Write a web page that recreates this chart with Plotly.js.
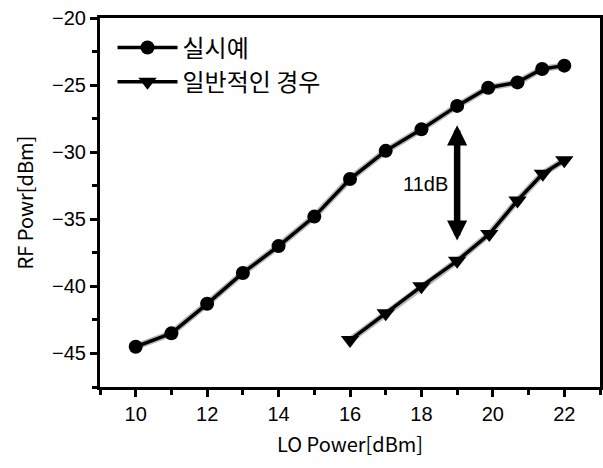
<!DOCTYPE html>
<html>
<head>
<meta charset="utf-8">
<script src="https://cdn.plot.ly/plotly-3.0.1.min.js"></script>
<style>html,body{margin:0;padding:0;background:#fff;}#chart{width:603px;height:468px;}</style>
</head>
<body>
<div id="chart"></div>
<script>
// Data
const seriesNames = ['실시예', '일반적인 경우'];
const embodimentX = [10, 11, 12, 13, 14, 15, 16, 17, 18, 19, 19.87, 20.69, 21.38, 22];
const embodimentY = [-44.5, -43.5, -41.3, -39.0, -37.0, -34.8, -32.0, -29.9, -28.3, -26.55, -25.2, -24.8, -23.8, -23.55];
const generalX = [16, 17, 18, 19, 19.9, 20.69, 21.4, 22];
const generalY = [-44.0, -42.0, -40.0, -38.1, -36.1, -33.6, -31.6, -30.6];
const gapLabel = '11dB';
const xTitle = 'LO Power[dBm]';
const yTitle = 'RF Powr[dBm]';

// Arrow drawn between the two curves at x = 19
const gapIdxTop = embodimentX.indexOf(19);
const gapIdxBot = generalX.indexOf(19);
const arrowX = embodimentX[gapIdxTop];
const arrowTop = embodimentY[gapIdxTop] - 1.45;
const arrowBot = generalY[gapIdxBot] + 1.4;

const lineStyle = {color: '#000', width: 3.5};
const haloStyle = {color: 'rgba(0,0,0,0.28)', width: 6.5};
const traces = [
  {x: embodimentX, y: embodimentY, type: 'scatter', mode: 'lines', line: haloStyle, showlegend: false, hoverinfo: 'skip'},
  {x: generalX, y: generalY, type: 'scatter', mode: 'lines', line: haloStyle, showlegend: false, hoverinfo: 'skip'},
  {x: embodimentX, y: embodimentY, name: seriesNames[0], type: 'scatter', mode: 'lines+markers',
   line: lineStyle, marker: {symbol: 'circle', size: 14, color: '#000'}, legendgroup: 'a'},
  {x: generalX, y: generalY, name: seriesNames[1], type: 'scatter', mode: 'lines+markers',
   line: lineStyle, marker: {symbol: 'triangle-down', size: 16, color: '#000'}, legendgroup: 'b'}
];

const axisFont = {family: 'Liberation Sans, Arial, sans-serif', size: 20, color: '#000'};
const titleFont = {family: 'Noto Sans CJK KR, sans-serif', size: 20, color: '#000'};
const layout = {
  width: 603, height: 468,
  margin: {l: 100, r: 3, t: 18, b: 81},
  paper_bgcolor: '#fff', plot_bgcolor: '#fff',
  showlegend: true,
  legend: {x: 0.025, y: 0.98, xanchor: 'left', yanchor: 'top',
           font: {family: 'Noto Sans CJK KR, sans-serif', size: 24, color: '#000'},
           bgcolor: 'rgba(0,0,0,0)', itemwidth: 60, tracegroupgap: 11, traceorder: 'normal'},
  xaxis: {range: [9, 23], tick0: 10, dtick: 2, ticks: 'outside', ticklen: 7, tickwidth: 3, tickcolor: '#000',
          minor: {dtick: 1, tick0: 9, ticks: 'outside', ticklen: 5, tickwidth: 3, tickcolor: '#000'},
          showline: true, linewidth: 3, linecolor: '#000', mirror: true, showgrid: false, zeroline: false,
          tickfont: axisFont,
          title: {text: xTitle, font: titleFont, standoff: 14}},
  yaxis: {range: [-47.5, -20], tick0: -20, dtick: 5, ticks: 'outside', ticklen: 7, tickwidth: 3, tickcolor: '#000',
          minor: {dtick: 2.5, ticks: 'outside', ticklen: 5, tickwidth: 3, tickcolor: '#000'},
          showline: true, linewidth: 3, linecolor: '#000', mirror: true, showgrid: false, zeroline: false,
          tickfont: axisFont,
          title: {text: yTitle, font: titleFont, standoff: 14}},
  annotations: [
    {x: arrowX, y: arrowTop, ax: arrowX, ay: arrowBot, xref: 'x', yref: 'y', axref: 'x', ayref: 'y',
     showarrow: true, arrowhead: 2, startarrowhead: 2, arrowside: 'end+start', arrowwidth: 6.5, arrowsize: 0.62,
     startarrowsize: 0.62, arrowcolor: '#000', text: ''},
    {x: arrowX - 0.2, y: (arrowTop + arrowBot) / 2, xref: 'x', yref: 'y', xanchor: 'right', yanchor: 'middle',
     showarrow: false, text: gapLabel, font: {family: 'Liberation Sans, Arial, sans-serif', size: 20, color: '#000'}}
  ]
};

Plotly.newPlot('chart', traces, layout, {displayModeBar: false, staticPlot: true});
</script>
</body>
</html>
